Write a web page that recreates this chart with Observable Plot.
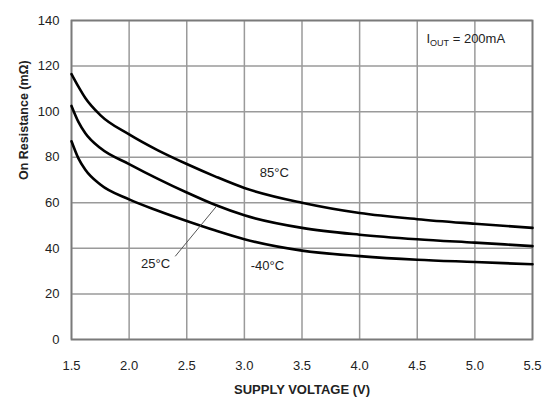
<!DOCTYPE html>
<html><head><meta charset="utf-8">
<script src="https://cdn.jsdelivr.net/npm/d3@7"></script>
<script src="https://cdn.jsdelivr.net/npm/@observablehq/plot@0.6"></script>
<style>body{margin:0;background:#fff} svg{display:block}</style>
</head><body><div id="chart"></div>
<script>
const voltage = [1.5, 1.56, 1.62, 1.75, 2.0, 2.25, 2.5, 2.75, 3.0, 3.5, 4.0, 4.5, 5.0, 5.5];
const r85  = [116.5, 111, 106, 98.5, 90, 83, 77, 71.5, 66.5, 60, 55.5, 52.8, 50.8, 49];
const r25  = [102.5, 95.5, 90.5, 84, 77, 70.5, 64.5, 59, 54.5, 49, 46, 44, 42.5, 41];
const rm40 = [87, 79.5, 74.5, 68, 61.5, 56.5, 52, 47.8, 44, 39, 36.6, 35, 34, 33];
const seriesNames = ["85°C", "25°C", "-40°C"];
const xTicks = [1.5, 2.0, 2.5, 3.0, 3.5, 4.0, 4.5, 5.0, 5.5];
const yTicks = [0, 20, 40, 60, 80, 100, 120, 140];

const rows = [];
[r85, r25, rm40].forEach((arr, i) => arr.forEach((r, j) => rows.push({series: seriesNames[i], v: voltage[j], r})));

const font = "'Liberation Sans', Arial, sans-serif";
const chart = Plot.plot({
  width: 549, height: 404,
  marginLeft: 71, marginRight: 17, marginTop: 20, marginBottom: 65,
  style: {fontFamily: font, fontSize: "13px", color: "#222", background: "#fff"},
  x: {domain: [1.5, 5.5], ticks: xTicks, tickFormat: d => d.toFixed(1), tickSize: 0, tickPadding: 21, label: null},
  y: {domain: [0, 140], ticks: yTicks, tickSize: 0, tickPadding: 12, label: null},
  marks: [
    Plot.gridX(xTicks, {stroke: "#9a9a9a", strokeOpacity: 1, strokeWidth: 1.5}),
    Plot.gridY(yTicks, {stroke: "#9a9a9a", strokeOpacity: 1, strokeWidth: 1.5}),
    Plot.frame({stroke: "#7a7a7a", strokeWidth: 1.8}),
    Plot.line(rows, {x: "v", y: "r", z: "series", stroke: "#000", strokeWidth: 2.6, curve: "monotone-x"}),
    Plot.link([0], {x1: 2.40, y1: 36.5, x2: 2.76, y2: 58.6, stroke: "#555", strokeWidth: 1}),
    Plot.text([seriesNames[0]], {x: 3.26, y: 73.2, text: d => d, fill: "#222", fontSize: 13}),
    Plot.text([seriesNames[1]], {x: 2.23, y: 33, text: d => d, fill: "#222", fontSize: 13}),
    Plot.text([seriesNames[2]], {x: 3.2, y: 32.5, text: d => d, fill: "#222", fontSize: 13}),
    Plot.text(["IOUT_LABEL"], {x: 4.58, y: 131.8, text: d => d, textAnchor: "start", fill: "#222", fontSize: 13}),
    Plot.text(["SUPPLY VOLTAGE (V)"], {frameAnchor: "bottom", dy: 54.5, text: d => d, fontWeight: "bold", fontSize: 13, fill: "#222"}),
    Plot.text(["On Resistance (mΩ)"], {frameAnchor: "left", dx: -48, rotate: -90, text: d => d, fontWeight: "bold", fontSize: 12.5, fill: "#222"})
  ]
});
document.getElementById("chart").appendChild(chart);
d3.select(chart).selectAll("text").filter(function() { return this.textContent === "IOUT_LABEL"; })
  .each(function() {
    const t = d3.select(this);
    t.text(null);
    t.append("tspan").text("I");
    t.append("tspan").attr("font-size", 9).attr("dy", 3).text("OUT");
    t.append("tspan").attr("dy", -3).text(" = 200mA");
  });
</script>
</body></html>
